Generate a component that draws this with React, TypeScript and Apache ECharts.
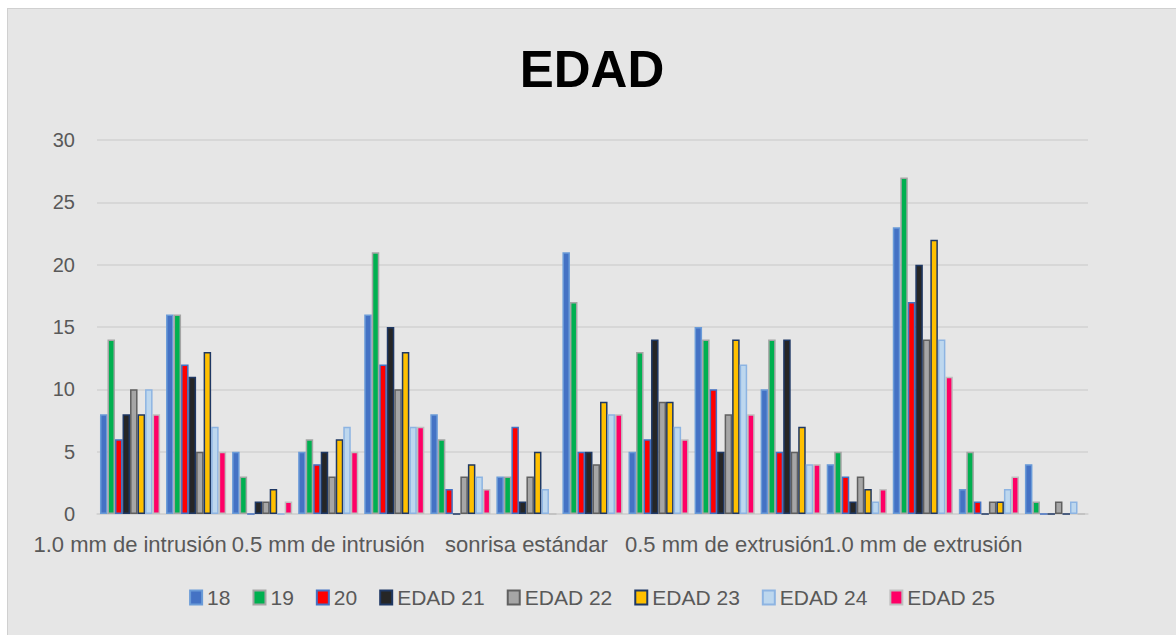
import React, { useEffect, useRef } from "react";
import * as echarts from "echarts";

const categories = [
  "1.0 mm de intrusión", "", "",
  "0.5 mm de intrusión", "", "",
  "sonrisa estándar", "", "",
  "0.5 mm de extrusión", "", "",
  "1.0 mm de extrusión", "", "",
];

const seriesNames = ["18", "19", "20", "EDAD 21", "EDAD 22", "EDAD 23", "EDAD 24", "EDAD 25"];

const s18 = [8, 16, 5, 5, 16, 8, 3, 21, 5, 15, 10, 4, 23, 2, 4];
const s19 = [14, 16, 3, 6, 21, 6, 3, 17, 13, 14, 14, 5, 27, 5, 1];
const s20 = [6, 12, 0, 4, 12, 2, 7, 5, 6, 10, 5, 3, 17, 1, 0];
const s21 = [8, 11, 1, 5, 15, 0, 1, 5, 14, 5, 14, 1, 20, 0, 0];
const s22 = [10, 5, 1, 3, 10, 3, 3, 4, 9, 8, 5, 3, 14, 1, 1];
const s23 = [8, 13, 2, 6, 13, 4, 5, 9, 9, 14, 7, 2, 22, 1, 0];
const s24 = [10, 7, 0, 7, 7, 3, 2, 8, 7, 12, 4, 1, 14, 2, 1];
const s25 = [8, 5, 1, 5, 7, 2, 0, 8, 6, 8, 4, 2, 11, 3, 0];

const yTicks = { min: 0, max: 30, interval: 5 };

const fills = ["#4472C4", "#00B050", "#FF0000", "#262626", "#A6A6A6", "#FFC000", "#BDD7EE", "#FF0066"];
const borders = ["#6A9BD8", "#A5A5A5", "#4472C4", "#1F3864", "#606060", "#1F3864", "#8DB4E2", "#BFBFBF"];

export default function App() {
  const ref = useRef<HTMLDivElement>(null);

  useEffect(() => {
    if (!ref.current) return;
    const chart = echarts.init(ref.current, null, { renderer: "svg" });
    const values = [s18, s19, s20, s21, s22, s23, s24, s25];
    const font = "'Liberation Sans', Arial, sans-serif";
    chart.setOption({
      animation: false,
      backgroundColor: "#e6e6e6",
      title: {
        text: "EDAD",
        left: "center",
        top: 30,
        textStyle: {
          fontFamily: font,
          fontWeight: "bold",
          fontSize: 51,
          color: "#000000",
        },
      },
      grid: { left: 89, right: 88, top: 131, bottom: 121, containLabel: false },
      legend: {
        bottom: 22,
        left: "center",
        icon: "rect",
        itemWidth: 12,
        itemHeight: 14,
        itemGap: 22,
        textStyle: { fontFamily: font, fontSize: 21, color: "#595959" },
        data: seriesNames,
      },
      xAxis: {
        type: "category",
        data: categories,
        axisTick: { show: false },
        axisLine: { lineStyle: { color: "#d2d2d2", width: 1.5 } },
        axisLabel: {
          interval: 0,
          margin: 19,
          fontFamily: font,
          fontSize: 22,
          color: "#595959",
        },
      },
      yAxis: {
        type: "value",
        min: yTicks.min,
        max: yTicks.max,
        interval: yTicks.interval,
        axisLine: { show: false },
        axisTick: { show: false },
        splitLine: { lineStyle: { color: "#d2d2d2", width: 1.5 } },
        axisLabel: { margin: 22, fontFamily: font, fontSize: 20, color: "#595959" },
      },
      series: seriesNames.map((name, i) => ({
        name,
        type: "bar",
        data: values[i],
        barGap: "0%",
        barCategoryGap: "9%",
        itemStyle: { color: fills[i], borderColor: borders[i], borderWidth: 1.5 },
      })),
    });
    return () => chart.dispose();
  }, []);

  return (
    <div
      style={{
        position: "absolute",
        left: 7,
        top: 8,
        width: 1169,
        height: 627,
        boxSizing: "border-box",
        borderLeft: "1px solid #d0d0d0",
        borderTop: "1px solid #d0d0d0",
        background: "#e6e6e6",
      }}
    >
      <div ref={ref} style={{ width: "100%", height: "100%" }} />
    </div>
  );
}
